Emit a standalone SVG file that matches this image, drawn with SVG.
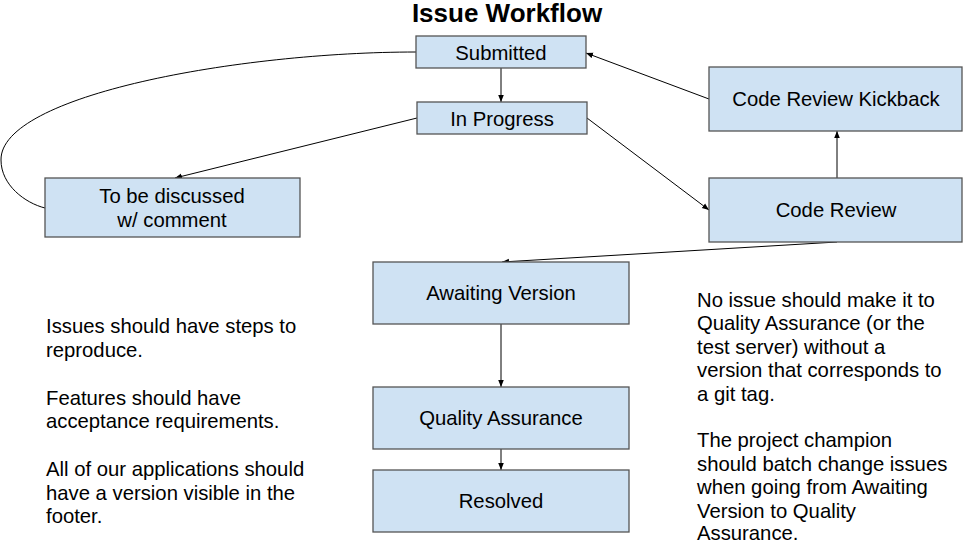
<svg xmlns="http://www.w3.org/2000/svg" width="966" height="541" viewBox="0 0 966 541">
<style>
.box{fill:#cfe2f3;stroke:#555;stroke-width:1.3}
.t{font-family:"Liberation Sans",Arial,sans-serif;font-size:20.3px;fill:#000;text-anchor:middle}
.n{font-family:"Liberation Sans",Arial,sans-serif;font-size:20.3px;fill:#000}
.c{fill:none;stroke:#000;stroke-width:1}
</style>
<defs>
<marker id="ah" viewBox="0 0 10 10" refX="10" refY="5" markerWidth="7" markerHeight="7" markerUnits="userSpaceOnUse" orient="auto">
<path d="M0,1 L10,5 L0,9 Z" fill="#000"/>
</marker>
</defs>
<rect width="966" height="541" fill="#fff"/>
<text x="507" y="22" font-family="Liberation Sans,Arial,sans-serif" font-size="26" font-weight="bold" text-anchor="middle">Issue Workflow</text>
<g id="connectors">
<path class="c" d="M416,52 C240,52 0,95 1,160 C1,185 25,203 45,208"/>
<line class="c" x1="501" y1="68" x2="501" y2="102" marker-end="url(#ah)"/>
<line class="c" x1="417" y1="118" x2="175" y2="178" marker-end="url(#ah)"/>
<line class="c" x1="587" y1="118" x2="709" y2="210" marker-end="url(#ah)"/>
<line class="c" x1="709" y1="99" x2="586" y2="53" marker-end="url(#ah)"/>
<line class="c" x1="837" y1="178" x2="837" y2="131" marker-end="url(#ah)"/>
<line class="c" x1="837" y1="242" x2="502" y2="262" marker-end="url(#ah)"/>
<line class="c" x1="501" y1="324" x2="501" y2="387" marker-end="url(#ah)"/>
<line class="c" x1="501" y1="449" x2="501" y2="470" marker-end="url(#ah)"/>
</g>
<g id="submitted"><rect class="box" x="416" y="36" width="170" height="32"/><text class="t" x="501" y="59.5">Submitted</text></g>
<g id="in-progress"><rect class="box" x="417" y="102" width="170" height="32"/><text class="t" x="502" y="125.5">In Progress</text></g>
<g id="to-be-discussed"><rect class="box" x="45" y="178" width="255" height="59"/><text class="t" x="172" y="203">To be discussed</text><text class="t" x="172" y="227">w/ comment</text></g>
<g id="code-review-kickback"><rect class="box" x="709" y="67" width="253" height="64"/><text class="t" x="836" y="106">Code Review Kickback</text></g>
<g id="code-review"><rect class="box" x="709" y="178" width="253" height="64"/><text class="t" x="836" y="217">Code Review</text></g>
<g id="awaiting-version"><rect class="box" x="373" y="262" width="256" height="62"/><text class="t" x="501" y="300">Awaiting Version</text></g>
<g id="quality-assurance"><rect class="box" x="373" y="387" width="256" height="62"/><text class="t" x="501" y="425">Quality Assurance</text></g>
<g id="resolved"><rect class="box" x="373" y="470" width="256" height="62"/><text class="t" x="501" y="508">Resolved</text></g>
<g id="notes-left">
<text class="n" x="46" y="333">Issues should have steps to</text>
<text class="n" x="46" y="356.5">reproduce.</text>
<text class="n" x="46" y="404.5">Features should have</text>
<text class="n" x="46" y="428">acceptance requirements.</text>
<text class="n" x="46" y="476">All of our applications should</text>
<text class="n" x="46" y="499.5">have a version visible in the</text>
<text class="n" x="46" y="523">footer.</text>
</g>
<g id="notes-right">
<text class="n" x="697" y="307">No issue should make it to</text>
<text class="n" x="697" y="330.4">Quality Assurance (or the</text>
<text class="n" x="697" y="353.8">test server) without a</text>
<text class="n" x="697" y="377.2">version that corresponds to</text>
<text class="n" x="697" y="400.6">a git tag.</text>
<text class="n" x="697" y="447.4">The project champion</text>
<text class="n" x="697" y="470.8">should batch change issues</text>
<text class="n" x="697" y="494.2">when going from Awaiting</text>
<text class="n" x="697" y="517.6">Version to Quality</text>
<text class="n" x="697" y="539.5">Assurance.</text>
</g>
</svg>
